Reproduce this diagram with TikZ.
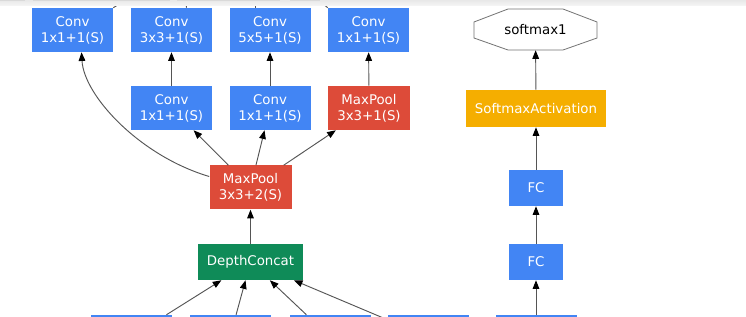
\documentclass[tikz,border=0pt]{standalone}
\usepackage{fontspec}
\setmainfont{DejaVu Sans}
\usetikzlibrary{arrows.meta,calc}
\definecolor{gblue}{HTML}{4285F4}
\definecolor{gred}{HTML}{DD4B39}
\definecolor{ggreen}{HTML}{0F8B58}
\definecolor{gorange}{HTML}{F5AE00}
\definecolor{edgecol}{HTML}{555555}
\tikzset{
  layer/.style={draw=none, text=white, font=\fontsize{10}{12}\selectfont, align=center, inner sep=0pt},
  conv/.style={layer, fill=gblue, minimum width=60.75pt, minimum height=33pt},
  pool/.style={layer, fill=gred, minimum width=61.5pt, minimum height=33pt},
  concat/.style={layer, fill=ggreen, minimum width=78.75pt, minimum height=27pt},
  act/.style={layer, fill=gorange, minimum width=105pt, minimum height=27.75pt, font=\fontsize{10}{12}\selectfont},
  fc/.style={layer, fill=gblue, minimum width=40.5pt, minimum height=27pt},
  outnode/.style={draw=none, inner sep=0pt, minimum width=92.25pt, minimum height=30.75pt, font=\fontsize{10}{12}\selectfont},
  edge/.style={draw=edgecol, line width=0.7pt, -{Triangle[length=6.5pt,width=5pt,color=black]}},
  plain/.style={draw=edgecol, line width=0.7pt}
}
\begin{document}
\begin{tikzpicture}[x=0.75pt,y=-0.75pt]
\useasboundingbox (0,0) rectangle (746,317);
\clip (0,0) rectangle (746,317);
\fill[white] (0,0) rectangle (746,317);

% top row
\node[conv] (c1) at (72.5,30) {Conv\\1x1+1(S)};
\node[conv] (c2) at (171.5,30) {Conv\\3x3+1(S)};
\node[conv] (c3) at (270,30) {Conv\\5x5+1(S)};
\node[conv] (c4) at (368.5,30) {Conv\\1x1+1(S)};
% second row
\node[conv] (r2a) at (171.5,108) {Conv\\1x1+1(S)};
\node[conv] (r2b) at (270,108) {Conv\\1x1+1(S)};
\node[pool] (r2c) at (369,108) {MaxPool\\3x3+1(S)};
% pool and concat
\node[pool] (mp) at (250.5,187.5) {MaxPool\\3x3+2(S)};
\node[concat] (dc) at (250.5,262) {DepthConcat};
% bottom row (cut off)
\node[conv] (b1) at (131,337) {};
\node[conv] (b2) at (230,337) {};
\node[conv] (b3) at (330,337) {};
\node[conv] (b4) at (428.5,337) {};
\node[conv] (b5) at (536,337) {};
% right column
\node[fc] (fc2) at (536,262) {FC};
\node[fc] (fc1) at (536,188) {FC};
\node[act] (sa) at (536,108.5) {SoftmaxActivation};
\node[outnode] (sm) at (535.5,29.5) {};
\draw[draw=black!55, line width=0.6pt, fill=white]
  (508,9) -- (563,9) -- (597,22) -- (597,38) -- (563,50) -- (508,50) -- (474,38) -- (474,22) -- cycle;
\node[outnode] at (sm) {softmax1};

% edges
\draw[edge] (r2a) -- (c2);
\draw[edge] (r2b) -- (c3);
\draw[edge] (r2c) -- (c4);
\draw[edge] ($(mp.west)+(0,-11)$) .. controls (140,156) and (84,96) .. ($(c1.south)+(9,0)$);
\draw[edge] (mp) -- (r2a);
\draw[edge] (mp) -- (r2b);
\draw[edge] (mp) -- (r2c);
\draw[edge] (dc) -- (mp);
\draw[edge] (b1) -- (dc);
\draw[edge] (b2) -- (dc);
\draw[edge] (b3) -- (dc);
\draw[edge] (b4) -- (dc);
\draw[edge] (b5) -- (fc2);
\draw[edge] (fc2) -- (fc1);
\draw[edge] (fc1) -- (sa);
\draw[edge] (sa) -- (sm);

% edges leaving the top row (cut off)
\coordinate (u1) at (121,3);
\coordinate (u2) at (186,3);
\coordinate (u3) at (255,3);
\coordinate (u4) at (322,3);
\draw[plain] (c1.north east) -- (u1);
\draw[plain] ($(c2.north)+(15,0)$) -- (u2);
\draw[plain] ($(c3.north)+(-15,0)$) -- (u3);
\draw[plain] (c4.north west) -- (u4);

% grey band at the top of the screenshot
\shade[top color=black!9, bottom color=black!4] (0,0) rectangle (746,5.5);
\fill[black!15] (0,0) rectangle (25,1.5);
\fill[black!15] (33,0) rectangle (170,1.5);
\fill[black!15] (177,0) rectangle (280,1.5);
\fill[black!15] (290,0) rectangle (320,1.5);
\end{tikzpicture}
\end{document}
